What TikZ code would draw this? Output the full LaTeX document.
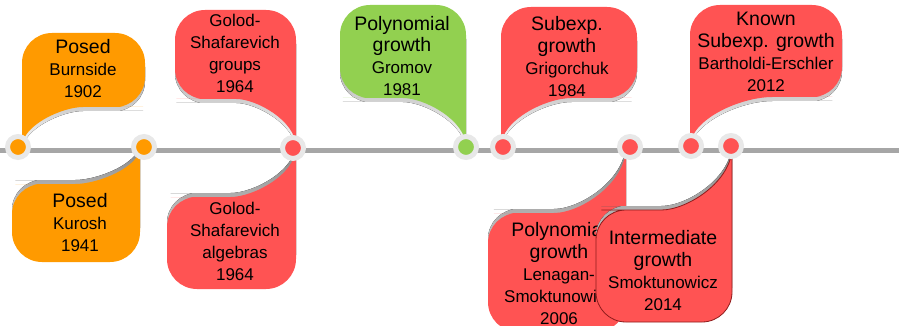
\documentclass[tikz,border=0pt]{standalone}
\usepackage{fontspec}
\setmainfont{Liberation Sans}
\usetikzlibrary{positioning}

\definecolor{posed}{HTML}{FF9A00}
\definecolor{solved}{HTML}{FF5353}
\definecolor{poly}{HTML}{92D050}
\definecolor{edge}{HTML}{8E1B1B}
\definecolor{shade}{HTML}{C8C8C8}
\definecolor{ring}{HTML}{E8E8E8}
\definecolor{axis}{HTML}{A6A6A6}

\newcommand{\bigtxt}{\fontsize{19.5}{22}\selectfont}
\newcommand{\smalltxt}{\fontsize{17}{22}\selectfont}

% callout: style, tail x, far x, outer y, inner y, tip y
\newcommand{\callout}[6]{%
  \pgfmathsetmacro{\balxc}{#2+0.74*(#3-#2)}%
  \pgfmathsetmacro{\balca}{#2+0.448*0.74*(#3-#2)}%
  \pgfmathsetmacro{\balcb}{#6-0.552*(#6-#5)}%
  \pgfmathsetmacro{\balsh}{4*sign(#5-#6)}%
  \fill[shade,yshift=\balsh pt] (#2,#6) [rounded corners=30pt] -- (#2,#4) -- (#3,#4) -- (#3,#5)
    -- (\balxc,#5) [sharp corners] .. controls (\balca,#5) and (#2,\balcb) .. (#2,#6) -- cycle;
  \path[#1] (#2,#6) [rounded corners=30pt] -- (#2,#4) -- (#3,#4) -- (#3,#5)
    -- (\balxc,#5) [sharp corners] .. controls (\balca,#5) and (#2,\balcb) .. (#2,#6) -- cycle;
}

\begin{document}
\begin{tikzpicture}
[x = 1pt, y = -1pt,
 timeline/.style = {draw = axis, line width = 5pt},
 dot/.style = {circle, draw = ring, line width = 5pt, minimum size = 21pt, inner sep = 0pt},
 txt/.style = {align = center, anchor = base, inner sep = 0pt, font = \smalltxt, text = black},
 orangebox/.style = {fill = posed},
 redbox/.style = {fill = solved},
 greenbox/.style = {fill = poly},
 edgebox/.style = {fill = solved, draw = edge, line width = 0.8pt}
 ]
\clip (0,0) rectangle (899,326);
\coordinate (start) at (0,150);
\coordinate (end) at (899,150);
\draw [timeline] (start) -- (end);
% callouts above the line (text placed by its last line)
\callout{orangebox}{22}{145}{33}{107}{147}
\node [txt] (burnside) at (83,98) {{\bigtxt Posed}\\Burnside\\1902};
\callout{redbox}{296}{175}{10}{99}{147}
\node [txt] (gsgroups) at (235,93) {Golod-\\Shafarevich\\groups\\1964};
\callout{greenbox}{466}{340}{5}{98}{147}
\node [txt] (gromov) at (402,96) {{\bigtxt Polynomial}\\{\bigtxt growth}\\Gromov\\1981};
\callout{redbox}{501}{637}{7}{98}{147}
\node [txt] (grigorchuk) at (567,97) {{\bigtxt Subexp.}\\{\bigtxt growth}\\Grigorchuk\\1984};
\callout{redbox}{690}{842}{5}{97}{147}
\node [txt] (bartholdi) at (766,92) {{\bigtxt Known}\\{\bigtxt Subexp. growth}\\Bartholdi-Erschler\\2012};
% callouts below the line
\callout{orangebox}{140}{12}{262}{184}{147}
\node [txt] (kurosh) at (80,251) {{\bigtxt Posed}\\Kurosh\\1941};
\callout{redbox}{296}{167}{289}{197}{147}
\node [txt] (gsalgebras) at (235,280) {Golod-\\Shafarevich\\algebras\\1964};
\callout{redbox}{626}{488}{332}{213}{147}
\node [txt] (lenagan) at (559,324) {{\bigtxt Polynomial}\\{\bigtxt growth}\\Lenagan-\\Smoktunowicz\\2006};
\callout{edgebox}{732}{596}{322}{210}{147}
\node [txt] (smoktunowicz) at (663,310) {{\bigtxt Intermediate}\\{\bigtxt growth}\\Smoktunowicz\\2014};
% events
\node [dot, fill = posed] (d1) at (18,147) {};
\node [dot, fill = posed] (d2) at (144,147) {};
\node [dot, fill = solved] (d3) at (293,148) {};
\node [dot, fill = poly] (d4) at (466,147) {};
\node [dot, fill = solved] (d5) at (503,147) {};
\node [dot, fill = solved] (d6) at (630,147) {};
\node [dot, fill = solved] (d7) at (691,146) {};
\node [dot, fill = solved] (d8) at (731,146) {};
\end{tikzpicture}
\end{document}
